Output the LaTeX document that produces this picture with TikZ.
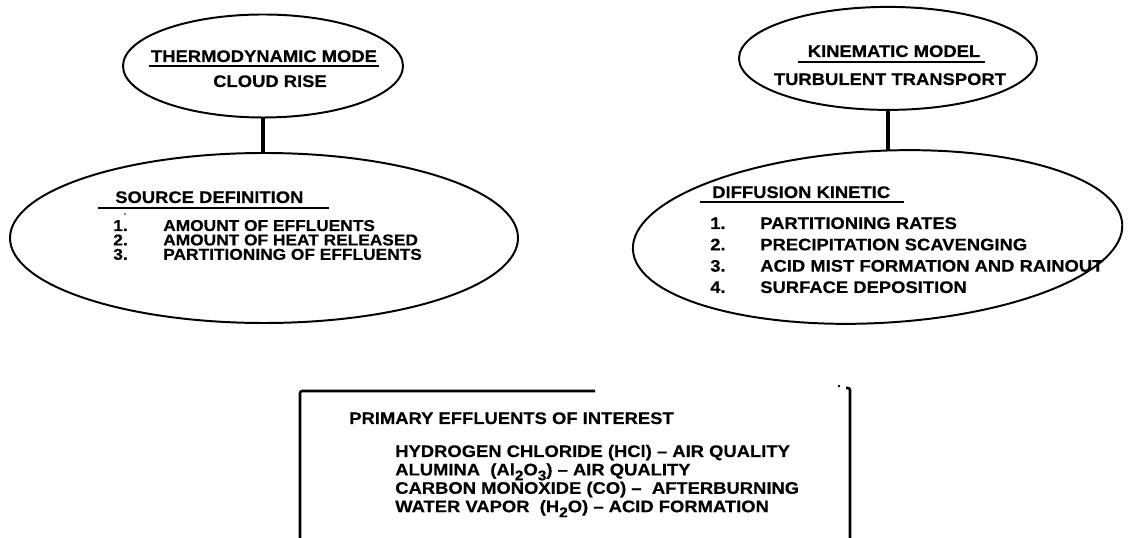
\documentclass[tikz,border=0pt]{standalone}
\usepackage{fontspec}
\newfontfamily\figfont{Liberation Sans}[FakeStretch=1.1,BoldFeatures={FakeBold=0.4}]
\usetikzlibrary{shapes.geometric,positioning}
\newcommand\chemsub[1]{\raisebox{-3.5pt}{\fontsize{10}{10}\selectfont #1}}
\tikzset{
  oval/.style={ellipse,draw,line width=1.4pt,inner sep=0pt},
  head/.style={font=\figfont\bfseries\fontsize{11.9}{14}\selectfont,inner sep=0pt,anchor=base},
  entry/.style={head,anchor=base west},
  small/.style={entry,font=\figfont\bfseries\fontsize{11.2}{13}\selectfont},
  rule/.style={line width=1.2pt},
  link/.style={line width=2.2pt},
  frame/.style={line width=1.8pt,rounded corners=1.5pt},
}
\begin{document}
\begin{tikzpicture}
  \useasboundingbox (0,0) rectangle (28.475,13.45);
  % upper ellipses
  \node[oval,minimum width=7cm,minimum height=2.575cm] (thermo) at (6.575,11.8) {};
  \node[oval,minimum width=7.45cm,minimum height=2.575cm] (kinem) at (22.2,11.99) {};
  % lower ellipses
  \node[oval,minimum width=12.7cm,minimum height=4.25cm] (source) at (6.6,7.5) {};
  \node[oval,minimum width=12.25cm,minimum height=4.3cm,rotate=3] (diffu) at (21.94,7.525) {};
  \draw[link] (thermo.south) -- (thermo.south |- source.north);
  \draw[link] (kinem.south) -- (kinem.south |- diffu.north);
  % headings
  \node[head] (thermo-h) at (6.6,11.9) {THERMODYNAMIC MODE};
  \node[head] (thermo-s) at (6.75,11.275) {CLOUD RISE};
  \draw[rule] ([shift={(-.05,-.1)}]thermo-h.base west) -- ([shift={(.05,-.1)}]thermo-h.base east);
  \node[head] (kinem-h) at (22.35,12.025) {KINEMATIC MODEL};
  \node[head] (kinem-s) at (22.25,11.325) {TURBULENT TRANSPORT};
  \draw[rule] ([shift={(-.25,-.12)}]kinem-h.base west) -- ([shift={(.1,-.12)}]kinem-h.base east);
  % source list
  \node[entry] (source-h) at (2.875,8.375) {SOURCE DEFINITION};
  \draw[rule] ([shift={(-.425,-.125)}]source-h.base west) -- ([shift={(.625,-.125)}]source-h.base east);
  \fill (3.125,8.1) circle (0.7pt);
  \foreach \txt [count=\i] in {AMOUNT OF EFFLUENTS,AMOUNT OF HEAT RELEASED,PARTITIONING OF EFFLUENTS}
    \node[small] (source-\i) at (2.825,{7.675-0.36*(\i-1)}) {\makebox[1.25cm][l]{\i.}\txt};
  % diffusion list
  \node[entry] (diffu-h) at (17.8,8.5) {DIFFUSION KINETIC};
  \draw[rule] ([shift={(-.3,-.1)}]diffu-h.base west) -- ([shift={(.35,-.1)}]diffu-h.base east);
  \foreach \txt [count=\i] in {PARTITIONING RATES,PRECIPITATION SCAVENGING,ACID MIST FORMATION AND RAINOUT,SURFACE DEPOSITION}
    \node[entry] (diffu-\i) at (17.75,{7.725-0.533*(\i-1)}) {\makebox[1.25cm][l]{\i.}\txt};
  % effluent box
  \draw[frame] (7.5,0) |- (14.875,3.675);
  \draw[frame] (21.15,3.75) -- (21.25,3.75) -- (21.25,0);
  \fill (20.975,3.8) circle (1pt);
  \node[entry] (effl-h) at (8.725,2.85) {PRIMARY EFFLUENTS OF INTEREST};
  \foreach \txt [count=\i] in {{HYDROGEN CHLORIDE (HCl) – AIR QUALITY},
      {ALUMINA\ \ (Al\chemsub{2}O\chemsub{3}) – AIR QUALITY},
      {CARBON MONOXIDE (CO) –\ \ AFTERBURNING},
      {WATER VAPOR\ \ (H\chemsub{2}O) – ACID FORMATION}}
    \node[entry] (effl-\i) at (9.875,{2.025-0.46*(\i-1)}) {\txt};
\end{tikzpicture}
\end{document}
